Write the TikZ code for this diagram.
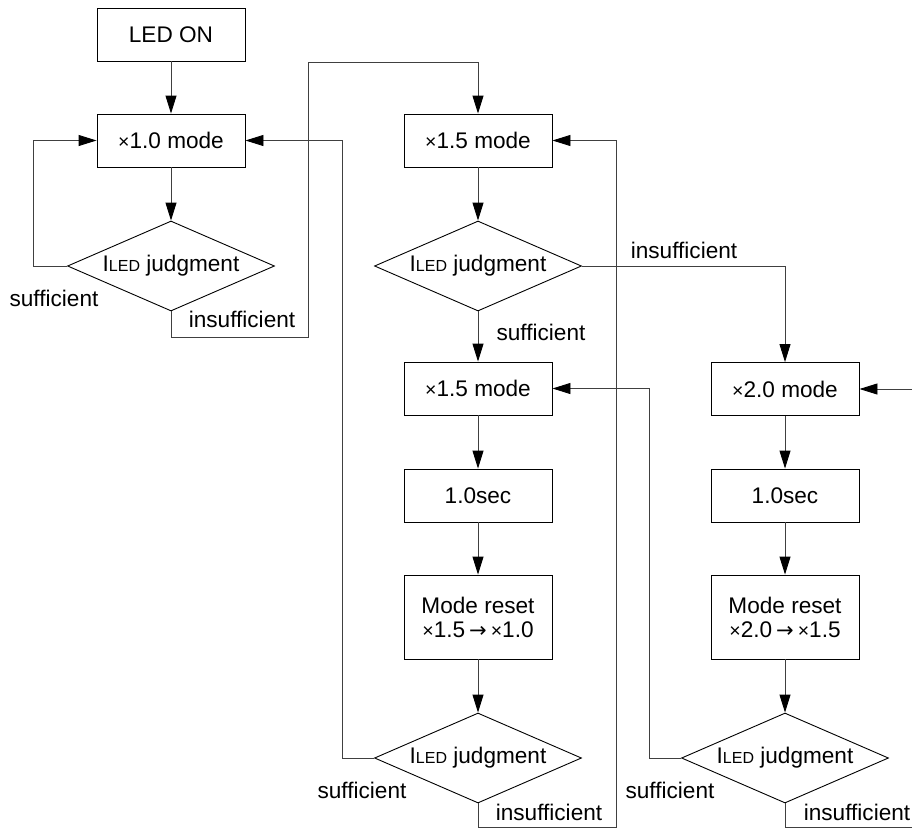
\documentclass[tikz,border=0pt]{standalone}
\usepackage{fontspec}
\setmainfont{Liberation Sans}
\newfontfamily\symfont{DejaVu Sans}
\usetikzlibrary{shapes.geometric,arrows.meta}
\newcommand{\iledtxt}{I{\fontsize{16}{18}\selectfont LED} judgment}
\newcommand{\rarr}{\hspace{4pt}{\symfont\fontsize{21}{22}\selectfont →}\hspace{4pt}}
\newcommand{\tms}{{\fontsize{19.5}{20}\selectfont ×}}
\begin{document}
\begin{tikzpicture}[x=1pt,y=-1pt,
  txt/.style={font=\fontsize{22.6}{24}\selectfont},
  box/.style={txt,draw=black,line width=0.9pt,minimum width=148pt,minimum height=53pt,inner sep=0pt,align=center},
  tallbox/.style={box,minimum height=84pt},
  judge/.style={txt,draw=black,diamond,line width=0.9pt,minimum width=207pt,minimum height=90pt,inner sep=0pt,aspect=2.3},
  conn/.style={draw=black!75,line width=0.9pt},
  arr/.style={conn,-{Triangle[length=18pt,width=11pt,color=black]}},
  lab/.style={txt,inner sep=0pt}]
\useasboundingbox (0,0) rectangle (912,830);
\fill[white] (0,0) rectangle (912,830);

\node[box] (on) at (171,34.5) {LED ON};
\node[box] (m10) at (171,140.5) {\tms1.0 mode};
\node[judge] (d1) at (171,266) {\iledtxt};
\node[box] (m15a) at (478,140.5) {\tms1.5 mode};
\node[judge] (d2) at (478,266) {\iledtxt};
\node[box] (m15b) at (478,388.5) {\tms1.5 mode};
\node[box] (s1) at (478,495.5) {1.0sec};
\node[tallbox] (r1) at (478,617) {Mode reset\\\tms1.5\rarr\tms1.0};
\node[judge] (d3) at (478,758) {\iledtxt};
\node[box] (m20) at (785,389) {\tms2.0 mode};
\node[box] (s2) at (785,495.5) {1.0sec};
\node[tallbox] (r2) at (785,617) {Mode reset\\\tms2.0\rarr\tms1.5};
\node[judge] (d4) at (785,758) {\iledtxt};

\draw[arr] (on) -- (m10);
\draw[arr] (m10) -- (d1);
\draw[arr] (m15a) -- (d2);
\draw[arr] (d2) -- (m15b);
\draw[arr] (m15b) -- (s1);
\draw[arr] (s1) -- (r1);
\draw[arr] (r1) -- (d3);
\draw[arr] (m20) -- (s2);
\draw[arr] (s2) -- (r2);
\draw[arr] (r2) -- (d4);

\coordinate (a1) at (33,266);
\draw[arr] (d1.west) -- (a1) |- (m10.west);
\coordinate (b1) at (171,337);
\coordinate (b2) at (308,337);
\coordinate (b3) at (308,62);
\coordinate (b4) at (478,62);
\draw[arr] (d1.south) -- (b1) -- (b2) -- (b3) -- (b4) -- (m15a.north);
\draw[arr] (d2.east) -| (m20.north);
\coordinate (c1) at (342,758);
\draw[arr] (d3.west) -- (c1) |- (m10.east);
\coordinate (e1) at (478,827);
\coordinate (e2) at (616,827);
\draw[arr] (d3.south) -- (e1) -- (e2) |- (m15a.east);
\coordinate (f1) at (649,758);
\draw[arr] (d4.west) -- (f1) |- (m15b.east);
\coordinate (g1) at (785,827);
\coordinate (g2) at (916,827);
\draw[arr] (d4.south) -- (g1) -- (g2) |- (m20.east);

\node[lab] (l1) at (54,298) {sufficient};
\node[lab] (l2) at (242,319) {insufficient};
\node[lab] (l3) at (541,332) {sufficient};
\node[lab] (l4) at (684,250) {insufficient};
\node[lab] (l5) at (362,790) {sufficient};
\node[lab] (l6) at (549,812) {insufficient};
\node[lab] (l7) at (670,790) {sufficient};
\node[lab] (l8) at (857,812) {insufficient};
\end{tikzpicture}
\end{document}
